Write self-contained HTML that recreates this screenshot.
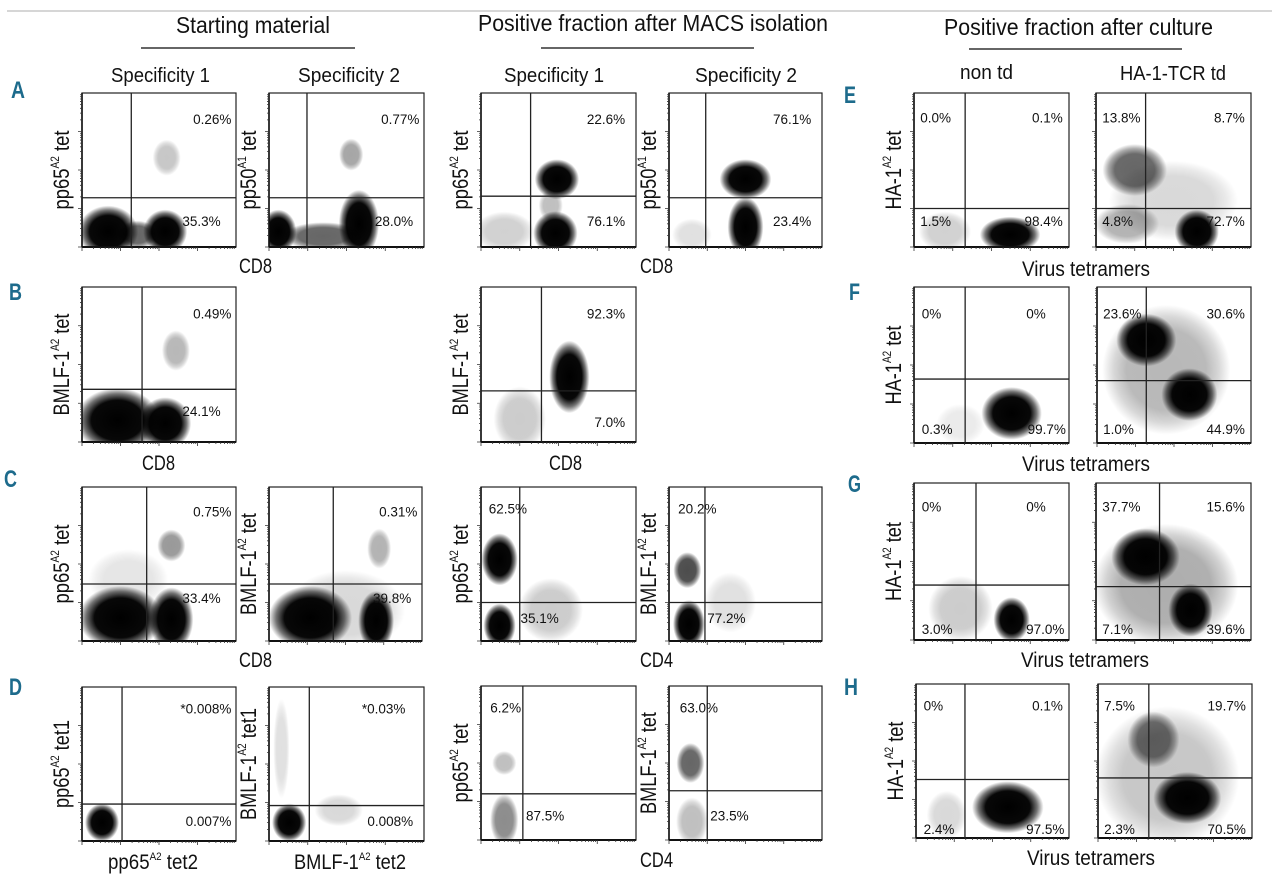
<!DOCTYPE html>
<html><head><meta charset="utf-8"><style>
html,body{margin:0;padding:0;background:#fff;}
svg{display:block;font-family:"Liberation Sans",sans-serif;}
</style></head><body>
<svg id="fig" xmlns="http://www.w3.org/2000/svg" width="1280" height="882" viewBox="0 0 1280 882">
<defs>
<radialGradient id="blob" cx="0.5" cy="0.5" r="0.5">
<stop offset="0" stop-color="#000" stop-opacity="1"/>
<stop offset="0.62" stop-color="#000" stop-opacity="0.97"/>
<stop offset="0.82" stop-color="#000" stop-opacity="0.55"/>
<stop offset="1" stop-color="#000" stop-opacity="0"/>
</radialGradient>
</defs>
<line x1="7" y1="11" x2="1272" y2="11" stroke="#c8c8c8" stroke-width="1.5"/>
<g font-size="23" fill="#111">
<text x="176" y="33" textLength="154" lengthAdjust="spacingAndGlyphs">Starting material</text>
<text x="478" y="31" textLength="350" lengthAdjust="spacingAndGlyphs">Positive fraction after MACS isolation</text>
<text x="944" y="35" textLength="269" lengthAdjust="spacingAndGlyphs">Positive fraction after culture</text>
</g>
<g stroke="#333" stroke-width="1.5">
<line x1="141" y1="48" x2="355" y2="48"/>
<line x1="541" y1="48" x2="754" y2="48"/>
<line x1="969" y1="49" x2="1182" y2="49"/>
</g>
<g font-size="20" fill="#111">
<text x="111" y="82" textLength="99" lengthAdjust="spacingAndGlyphs">Specificity 1</text>
<text x="298" y="82" textLength="102" lengthAdjust="spacingAndGlyphs">Specificity 2</text>
<text x="504" y="82" textLength="100" lengthAdjust="spacingAndGlyphs">Specificity 1</text>
<text x="695" y="82" textLength="102" lengthAdjust="spacingAndGlyphs">Specificity 2</text>
<text x="960" y="79" textLength="53" lengthAdjust="spacingAndGlyphs">non td</text>
<text x="1120" y="80" textLength="106" lengthAdjust="spacingAndGlyphs">HA-1-TCR td</text>
</g>
<g font-size="24" font-weight="bold" fill="#1d6b8c">
<text x="11" y="98" textLength="14" lengthAdjust="spacingAndGlyphs">A</text>
<text x="9" y="300" textLength="13" lengthAdjust="spacingAndGlyphs">B</text>
<text x="4" y="487" textLength="13" lengthAdjust="spacingAndGlyphs">C</text>
<text x="9" y="695" textLength="13" lengthAdjust="spacingAndGlyphs">D</text>
<text x="844" y="103" textLength="12" lengthAdjust="spacingAndGlyphs">E</text>
<text x="849" y="300" textLength="11" lengthAdjust="spacingAndGlyphs">F</text>
<text x="848" y="492" textLength="13" lengthAdjust="spacingAndGlyphs">G</text>
<text x="844" y="695" textLength="14" lengthAdjust="spacingAndGlyphs">H</text>
</g>
<g font-size="21" fill="#111">
<text x="239" y="273" textLength="33" lengthAdjust="spacingAndGlyphs">CD8</text>
<text x="640" y="273" textLength="33" lengthAdjust="spacingAndGlyphs">CD8</text>
<text x="1022" y="276" textLength="128" lengthAdjust="spacingAndGlyphs">Virus tetramers</text>
<text x="142" y="470" textLength="33" lengthAdjust="spacingAndGlyphs">CD8</text>
<text x="549" y="470" textLength="33" lengthAdjust="spacingAndGlyphs">CD8</text>
<text x="1022" y="471" textLength="128" lengthAdjust="spacingAndGlyphs">Virus tetramers</text>
<text x="239" y="667" textLength="33" lengthAdjust="spacingAndGlyphs">CD8</text>
<text x="640" y="667" textLength="33" lengthAdjust="spacingAndGlyphs">CD4</text>
<text x="1021" y="667" textLength="128" lengthAdjust="spacingAndGlyphs">Virus tetramers</text>
<text x="108" y="869" textLength="90" lengthAdjust="spacingAndGlyphs">pp65<tspan font-size="11" dy="-9">A2</tspan><tspan dy="9"> tet2</tspan></text>
<text x="294" y="869" textLength="112" lengthAdjust="spacingAndGlyphs">BMLF-1<tspan font-size="11" dy="-9">A2</tspan><tspan dy="9"> tet2</tspan></text>
<text x="640" y="867" textLength="33" lengthAdjust="spacingAndGlyphs">CD4</text>
<text x="1027" y="865" textLength="128" lengthAdjust="spacingAndGlyphs">Virus tetramers</text>
</g>
<g id="plots"></g>
</svg>
<script>
// ---- data ----
const plotIds = ["a1","a2","a3","a4","e1","e2","b1","b3","f1","f2","c1","c2","c3","c4","g1","g2","d1","d2","d3","d4","h1","h2"];
const yTitles = [["pp65","A2"," tet"],["pp50","A1"," tet"],["pp65","A2"," tet"],["pp50","A1"," tet"],["HA-1","A2"," tet"],null,
 ["BMLF-1","A2"," tet"],["BMLF-1","A2"," tet"],["HA-1","A2"," tet"],null,
 ["pp65","A2"," tet"],["BMLF-1","A2"," tet"],["pp65","A2"," tet"],["BMLF-1","A2"," tet"],["HA-1","A2"," tet"],null,
 ["pp65","A2"," tet1"],["BMLF-1","A2"," tet1"],["pp65","A2"," tet"],["BMLF-1","A2"," tet"],["HA-1","A2"," tet"],null];
// gate positions (fraction of axis range)
const gateX = [.32,.245,.32,.24,.33,.32, .39,.39,.33,.32, .42,.42,.25,.235,.4,.41, .26,.26,.27,.25,.32,.33];
const gateY = [.32,.32,.33,.32,.25,.25, .34,.33,.41,.40, .37,.37,.25,.25,.35,.34, .24,.23,.30,.32,.38,.39];
// quadrant percentages: [text, xFrac, yFracFromTop, anchor]
const quadLabels = [
 [["0.26%",.97,.17,"end"],["35.3%",.9,.83,"end"]],
 [["0.77%",.97,.17,"end"],["28.0%",.93,.83,"end"]],
 [["22.6%",.93,.17,"end"],["76.1%",.93,.83,"end"]],
 [["76.1%",.93,.17,"end"],["23.4%",.93,.83,"end"]],
 [["0.0%",.04,.16,"start"],["0.1%",.96,.16,"end"],["1.5%",.04,.83,"start"],["98.4%",.96,.83,"end"]],
 [["13.8%",.04,.16,"start"],["8.7%",.96,.16,"end"],["4.8%",.04,.83,"start"],["72.7%",.96,.83,"end"]],
 [["0.49%",.97,.17,"end"],["24.1%",.9,.8,"end"]],
 [["92.3%",.93,.17,"end"],["7.0%",.93,.87,"end"]],
 [["0%",.05,.17,"start"],["0%",.85,.17,"end"],["0.3%",.05,.91,"start"],["99.7%",.98,.91,"end"]],
 [["23.6%",.04,.17,"start"],["30.6%",.96,.17,"end"],["1.0%",.04,.91,"start"],["44.9%",.96,.91,"end"]],
 [["0.75%",.97,.16,"end"],["33.4%",.9,.72,"end"]],
 [["0.31%",.97,.16,"end"],["39.8%",.93,.72,"end"]],
 [["62.5%",.05,.14,"start"],["35.1%",.255,.85,"start"]],
 [["20.2%",.06,.14,"start"],["77.2%",.25,.85,"start"]],
 [["0%",.05,.15,"start"],["0%",.85,.15,"end"],["3.0%",.05,.93,"start"],["97.0%",.97,.93,"end"]],
 [["37.7%",.04,.15,"start"],["15.6%",.96,.15,"end"],["7.1%",.04,.93,"start"],["39.6%",.96,.93,"end"]],
 [["*0.008%",.97,.14,"end"],["0.007%",.97,.87,"end"]],
 [["*0.03%",.88,.14,"end"],["0.008%",.93,.87,"end"]],
 [["6.2%",.06,.14,"start"],["87.5%",.29,.84,"start"]],
 [["63.0%",.07,.14,"start"],["23.5%",.27,.84,"start"]],
 [["0%",.05,.14,"start"],["0.1%",.96,.14,"end"],["2.4%",.05,.94,"start"],["97.5%",.97,.94,"end"]],
 [["7.5%",.04,.14,"start"],["19.7%",.96,.14,"end"],["2.3%",.04,.94,"start"],["70.5%",.96,.94,"end"]]
];
// cell populations: [cx, cy(from bottom), rx, ry, density]
const populations = [
 [[.17,.1,.15,.13,1],[.54,.1,.11,.11,1],[.36,.08,.1,.07,.6],[.55,.58,.07,.09,.22]],
 [[.06,.1,.09,.11,1],[.58,.15,.1,.17,1],[.35,.07,.2,.07,.6],[.53,.6,.06,.08,.35]],
 [[.49,.44,.11,.1,1],[.48,.09,.11,.11,1],[.15,.1,.15,.1,.18],[.45,.27,.06,.08,.25]],
 [[.5,.44,.13,.1,1],[.5,.13,.09,.15,1],[.15,.08,.1,.08,.12]],
 [[.62,.08,.15,.09,1],[.2,.1,.13,.1,.18]],
 [[.25,.5,.16,.13,.6],[.65,.1,.11,.11,1],[.2,.15,.16,.1,.3],[.5,.3,.32,.2,.15]],
 [[.23,.14,.21,.16,1],[.54,.12,.13,.13,1],[.61,.59,.07,.1,.28]],
 [[.57,.42,.1,.18,1],[.25,.15,.13,.16,.2]],
 [[.63,.19,.15,.13,1],[.3,.12,.12,.1,.08]],
 [[.32,.66,.15,.13,1],[.6,.31,.14,.13,1],[.45,.47,.32,.32,.28]],
 [[.25,.15,.21,.16,1],[.58,.14,.11,.16,1],[.58,.62,.07,.08,.4],[.3,.4,.2,.15,.1]],
 [[.27,.15,.21,.16,1],[.7,.13,.09,.15,1],[.72,.6,.06,.1,.3],[.5,.2,.3,.2,.15]],
 [[.12,.53,.09,.13,1],[.12,.1,.08,.11,1],[.45,.2,.16,.16,.2]],
 [[.12,.46,.07,.09,.7],[.13,.11,.08,.12,1],[.4,.25,.13,.15,.12]],
 [[.63,.13,.09,.11,1],[.3,.2,.16,.16,.2]],
 [[.32,.53,.17,.14,1],[.61,.19,.11,.13,1],[.45,.35,.36,.3,.32]],
 [[.13,.12,.085,.095,1]],
 [[.13,.12,.085,.095,1],[.08,.6,.04,.25,.12],[.45,.2,.12,.08,.15]],
 [[.15,.5,.06,.06,.25],[.15,.13,.07,.13,.45]],
 [[.14,.5,.07,.1,.6],[.15,.12,.08,.12,.25]],
 [[.6,.2,.18,.13,1],[.2,.15,.1,.12,.15]],
 [[.58,.26,.17,.13,1],[.36,.64,.13,.14,.55],[.45,.4,.36,.35,.22]]
];
// ---- layout ----
const spread = 1.3;
const boxes = {a1:[82,93,154,154],a2:[269,93,155,154],a3:[481,93,155,154],a4:[669,93,153,154],e1:[914,93,155,154],e2:[1096,93,155,154],
 b1:[82,287,154,155],b3:[481,287,155,155],f1:[914,287,155,156],f2:[1097,287,154,156],
 c1:[82,487,154,154],c2:[269,487,153,154],c3:[481,487,155,154],c4:[669,487,153,154],g1:[914,483,155,157],g2:[1096,483,155,157],
 d1:[82,687,154,154],d2:[269,687,155,154],d3:[481,686,155,154],d4:[669,686,153,154],h1:[916,684,153,154],h2:[1098,684,154,154]};
const NS="http://www.w3.org/2000/svg";
const root=document.getElementById("plots");
function mk(tag,attrs,parent){const e=document.createElementNS(NS,tag);for(const k in attrs)e.setAttribute(k,attrs[k]);parent.appendChild(e);return e;}
plotIds.forEach((id,i)=>{
 const [x0,y0,w,h]=boxes[id];
 const sx=f=>x0+f*w, sy=f=>y0+h-f*h;
 const g=mk("g",{},root);
 
 
 const cp=mk("clipPath",{id:"cp"+id},g);
 mk("rect",{x:x0,y:y0,width:w,height:h},cp);
 const pg=mk("g",{"clip-path":"url(#cp"+id+")"},g);
 populations[i].forEach((p,j)=>{
  const e=mk("ellipse",{cx:sx(p[0]),cy:sy(p[1]),rx:p[2]*w*spread,ry:p[3]*h*spread,fill:"url(#blob)",opacity:Math.min(1,p[4])},pg);
  
  
 });
 const fr=mk("rect",{x:x0,y:y0,width:w,height:h,fill:"none",stroke:"#222","stroke-width":1.2},g);
 
 
 mk("line",{x1:x0,y1:y0+h,x2:x0+w,y2:y0+h,stroke:"#111","stroke-width":2},g);
 mk("line",{x1:x0,y1:y0,x2:x0,y2:y0+h,stroke:"#111","stroke-width":1.6},g);
 const gv=mk("line",{x1:sx(gateX[i]),y1:y0,x2:sx(gateX[i]),y2:y0+h,stroke:"#222","stroke-width":1.3},g);
 
 
 const gh=mk("line",{x1:x0,y1:sy(gateY[i]),x2:x0+w,y2:sy(gateY[i]),stroke:"#222","stroke-width":1.3},g);
 
 
 let tp="";
 for(let d=0;d<4;d++){for(let m=1;m<10;m++){const f=(d+Math.log10(m))/4;const L=m===1?4:2;
  tp+=`M${sx(f)},${y0+h}v${L}`; tp+=`M${x0},${sy(f)}h${-L}`;}}
 mk("path",{d:tp,stroke:"#333","stroke-width":0.8,fill:"none"},g);
 quadLabels[i].forEach((q,j)=>{
  const t=mk("text",{x:sx(q[1]),y:y0+q[2]*h+5,"font-size":13.5,"text-anchor":q[3],fill:"#111"},g);
  t.textContent=q[0];
  
  
 });
 const yt=yTitles[i];
 if(yt){
  const bx=x0-13, cy=y0+h/2;
  const len=yt[0].length>4?(yt[2].length>4?112:102):(yt[2].length>4?88:79);
  const t=mk("text",{x:bx,y:cy,"font-size":22,"text-anchor":"middle",fill:"#111",transform:`rotate(-90 ${bx} ${cy})`,textLength:len,lengthAdjust:"spacingAndGlyphs"},g);
  
  
  const a=mk("tspan",{},t);a.textContent=yt[0];
  const b=mk("tspan",{"font-size":12,dy:-10},t);b.textContent=yt[1];
  const c=mk("tspan",{dy:10},t);c.textContent=yt[2];
 }
});
</script>
</body></html>
